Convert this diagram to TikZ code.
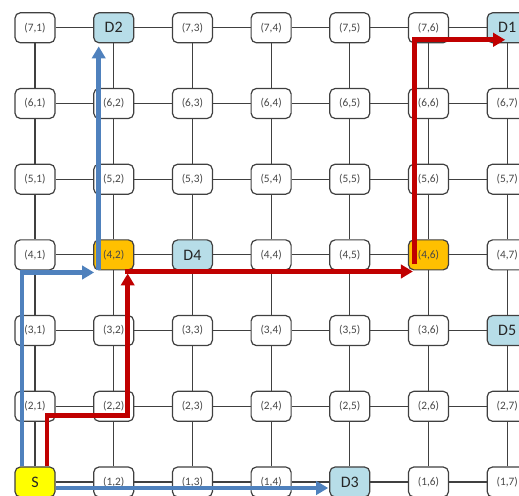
\documentclass[tikz,border=0pt]{standalone}
\usepackage{fontspec}
\setmainfont{Carlito}
\usepackage{tikz}
\usetikzlibrary{arrows.meta,calc}
\definecolor{routeblue}{RGB}{79,129,189}
\definecolor{routered}{RGB}{192,0,0}
\definecolor{destblue}{RGB}{183,221,232}
\definecolor{hubamber}{RGB}{255,192,0}
\definecolor{srcyellow}{RGB}{255,255,0}
\definecolor{linkgray}{RGB}{64,64,64}

\begin{document}
\begin{tikzpicture}[x=0.75pt,y=0.75pt,
    cell/.style={draw=linkgray,line width=0.9pt,fill=white,rounded corners=4pt,
      minimum width=30pt,minimum height=22.5pt,inner sep=0pt,
      font=\fontsize{8.5}{9}\selectfont,text=black!72},
    dest/.style={fill=destblue,font=\fontsize{12}{13}\selectfont,text=black!85},
    hub/.style={fill=hubamber},
    src/.style={dest,fill=srcyellow},
    n72/.style={dest,node contents=D2},
    n77/.style={dest,node contents=D1},
    n43/.style={dest,node contents=D4},
    n37/.style={dest,node contents=D5},
    n15/.style={dest,node contents=D3},
    n11/.style={src,node contents=S},
    n42/.style={hub},
    n46/.style={hub},
    link/.style={linkgray,line width=0.9pt},
    route/.style={line width=3.5pt,-{Triangle[length=9pt,width=10pt]}}]
  \useasboundingbox (0,0) rectangle (519,496);
  \foreach \r in {1,...,7}
    \foreach \c in {1,...,7}
      \node[cell,name=n\r\c,at={({35+78.7*(\c-1)},{14+75.7*(\r-1)})},
        node contents={(\r,\c)},n\r\c/.try];
  \foreach \r in {1,...,7}
    \foreach \c [count=\cn from 2] in {1,...,6}
      \draw[link] (n\r\c) -- (n\r\cn);
  \foreach \r [count=\rn from 2] in {1,...,6}
    \foreach \c in {1,...,7}
      \draw[link] (n\r\c) -- (n\rn\c);
  \draw[route,routeblue] ($(n11.north)+(-13,0)$) |- ($(n42.south west)+(1,-2)$);
  \draw[route,routeblue] ($(n42.south)+(-15,0)$) -- ($(n72.south)+(-15,-3)$);
  \draw[route,routeblue] ($(n11.east)+(0,-6)$) -- ($(n15.west)+(-1,-6)$);
  \draw[route,routered] ($(n11.north)+(12,0)$) |- ($(n22)+(14,-9)$)
    -- ($(n42.south)+(14,-3)$);
  \draw[route,routered] ($(n42.south)+(11,-1)$) -- ($(n46.south west)+(5,-1)$);
  \draw[route,routered] ($(n46.south)+(-14,6)$) |- ($(n77)+(-2,-12)$);
\end{tikzpicture}
\end{document}
